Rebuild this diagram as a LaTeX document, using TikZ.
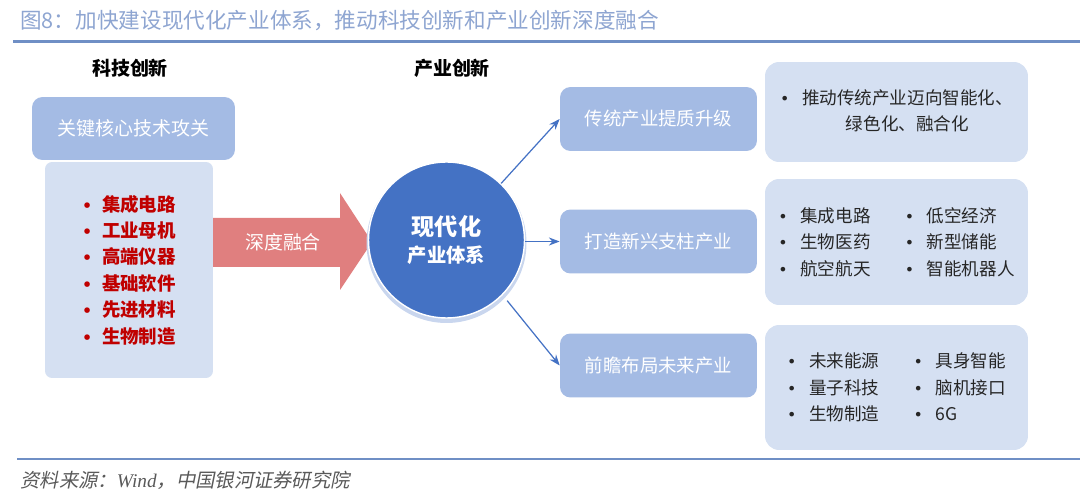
\documentclass[tikz,border=0pt]{standalone}
\usepackage{fontspec}
\setmainfont{Noto Sans CJK SC}
\newfontfamily\slantcjk[FakeSlant=0.2]{Noto Sans CJK SC}
\newfontfamily\wserif{Liberation Serif}
\newfontfamily\dotfont{DejaVu Sans}
\usepackage{xcolor}
\usetikzlibrary{arrows.meta,positioning,calc}
\definecolor{rulblue}{HTML}{6F8FC5}
\definecolor{titleblue}{HTML}{8EA5D1}
\definecolor{midblue}{HTML}{A4BBE4}
\definecolor{paleblue}{HTML}{D5E0F2}
\definecolor{hubblue}{HTML}{4472C4}
\definecolor{hubhalo}{HTML}{C9D6EE}
\definecolor{fusered}{HTML}{E07F7F}
\definecolor{itemred}{HTML}{C00000}
\definecolor{darktxt}{HTML}{262626}
\definecolor{srcgray}{HTML}{595959}
\tikzset{
  >=Stealth,
  arr/.style={->,draw=hubblue,line width=0.7pt},
}
\newcommand{\dotitem}[2][12.5pt]{\makebox[#1][l]{{\dotfont\fontsize{9}{9}\selectfont\char"2022}}#2}

\begin{document}
\begin{tikzpicture}[x=0.02cm,y=-0.02cm,
  midbox/.style={fill=midblue,rounded corners=6pt,text=white,
    minimum width=3.94cm,minimum height=1.28cm,inner sep=0pt,
    font=\fontsize{10.5}{13}\selectfont},
  palebox/.style={fill=paleblue,rounded corners=8pt,text=darktxt,
    minimum width=5.26cm,inner sep=0pt,align=left,
    font=\fontsize{10}{15}\selectfont},
  head/.style={font=\fontsize{10.8}{13}\selectfont\bfseries,text=black,inner sep=0pt},
]
  \useasboundingbox (0,0) rectangle (1080,500);

  % title and rules
  \node[anchor=west,text=titleblue,inner sep=0pt,
    font=\fontsize{12.3}{15}\selectfont] (title) at (20,21)
    {图8：加快建设现代化产业体系，推动科技创新和产业创新深度融合};
  \draw[rulblue,line width=1.7pt] (13,41.5) -- (1080,41.5);
  \draw[rulblue,line width=1.4pt] (17,459) -- (1080,459);
  \node[anchor=west,text=srcgray,inner sep=0pt,
    font=\fontsize{11}{13}\selectfont\slantcjk] (src) at (20,480)
    {资料来源：{\wserif\itshape Wind}，中国银河证券研究院};

  % 1 Science and technology
  \node[head] (techhd) at (130,68) {科技创新};
  \node[fill=midblue,rounded corners=6pt,text=white,inner sep=0pt,
    minimum width=4.06cm,minimum height=1.26cm,
    font=\fontsize{10.8}{13}\selectfont] (keybox) at (133.5,128.5) {关键核心技术攻关};
  \node[fill=paleblue,rounded corners=4pt,minimum width=3.36cm,
    minimum height=4.32cm,inner sep=0pt] (litebox) at (129,270) {};
  \node[text=itemred,align=left,inner sep=0pt,
    font=\fontsize{10.5}{15}\selectfont\bfseries] (items) at (litebox.center) {%
    \dotitem[11.3pt]{集成电路}\\
    \dotitem[11.3pt]{工业母机}\\
    \dotitem[11.3pt]{高端仪器}\\
    \dotitem[11.3pt]{基础软件}\\
    \dotitem[11.3pt]{先进材料}\\
    \dotitem[11.3pt]{生物制造}};

  % 2 Deep fusion
  \fill[fusered] (213,218) -- (340,218) -- (340,193) -- (372,242)
    -- (340,290) -- (340,267) -- (213,267) -- cycle;
  \node[text=white,inner sep=0pt,font=\fontsize{10.8}{13}\selectfont]
    (fuse) at (283,242) {深度融合};

  % 3 Industry innovation
  \node[head] (indhd) at (452,68) {产业创新};
  \fill[hubhalo] (446.5,243) circle[radius=80];
  \node[circle,fill=hubblue,draw=white,line width=0.8pt,minimum size=3.12cm,
    inner sep=0pt,text=white,align=center,
    font=\fontsize{11}{15.5}\selectfont\bfseries] (hub) at (446.5,240)
    {{\fontsize{13.2}{15.5}\selectfont 现代化}\\产业体系};

  \node[midbox] (trad) at (658.5,119) {传统产业提质升级};
  \node[midbox] (emrg) at (658.5,241.5) {打造新兴支柱产业};
  \node[midbox] (futr) at (658.5,365.5) {前瞻布局未来产业};

  \node[palebox,minimum height=2cm] (tradl) at (896.5,112) {%
    \dotitem{\begin{tabular}[t]{@{}c@{}}推动传统产业迈向智能化、\\绿色化、融合化\end{tabular}}};
  \node[palebox,minimum height=2.52cm] (emrgl) at (896.5,242) {%
    \makebox[72pt][l]{\dotitem{集成电路}}\dotitem{低空经济}\\
    \makebox[72pt][l]{\dotitem{生物医药}}\dotitem{新型储能}\\
    \makebox[72pt][l]{\dotitem{航空航天}}\dotitem{智能机器人}};
  \node[palebox,minimum height=2.5cm] (futrl) at (896.5,387.5) {%
    \makebox[72pt][l]{\dotitem{未来能源}}\dotitem{具身智能}\\
    \makebox[72pt][l]{\dotitem{量子科技}}\dotitem{脑机接口}\\
    \makebox[72pt][l]{\dotitem{生物制造}}\dotitem{6G}};

  \draw[arr] (hub.46) -- (trad.west);
  \draw[arr] (hub.east |- emrg.west) -- (emrg.west);
  \draw[arr] ($(hub.-45)+(5,5)$) -- (futr.west);
\end{tikzpicture}
\end{document}
